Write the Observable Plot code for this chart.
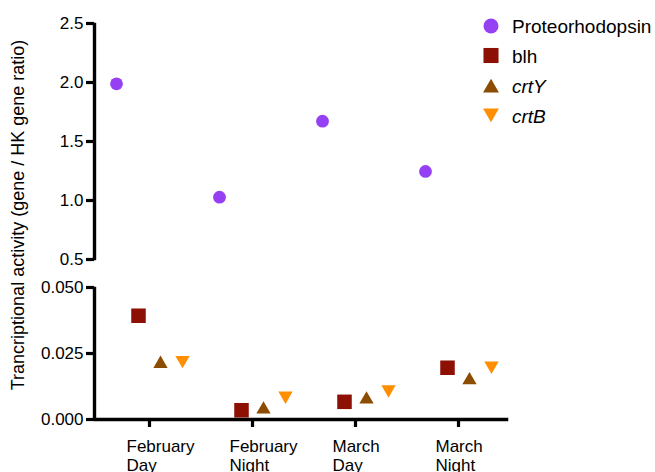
<!DOCTYPE html>
<html><head><meta charset="utf-8">
<script src="https://cdn.jsdelivr.net/npm/d3@7"></script>
<script src="https://cdn.jsdelivr.net/npm/@observablehq/plot@0.6"></script>
<style>
body{margin:0;background:#fff;font-family:"Liberation Sans",Arial,sans-serif;}
#chart{width:655px;height:472px;overflow:hidden;background:#fff;}
</style></head><body><div id="chart"></div>
<script>
// ---- data ----
const categories = ["February Day", "February Night", "March Day", "March Night"];
const seriesNames = ["Proteorhodopsin", "blh", "crtY", "crtB"];
const proteorhodopsin = [1.989, 1.028, 1.672, 1.246];
const blh = [0.0393, 0.0035, 0.0067, 0.0196];
const crtY = [0.0211, 0.0038, 0.0076, 0.0149];
const crtB = [0.0225, 0.0090, 0.0114, 0.0204];
const topTicks = [0.5, 1.0, 1.5, 2.0, 2.5];
const bottomTicks = [0, 0.025, 0.05];
const yLabel = "Trancriptional activity (gene / HK gene ratio)";

// ---- styles ----
const colors = {Proteorhodopsin: "#9640F4", blh: "#8C1104", crtY: "#8C4C02", crtB: "#FF8E00"};
const offsets = {Proteorhodopsin: -33, blh: -11, crtY: 11, crtB: 33};
const triangleDown = {
  draw(context, size) {
    const y = -Math.sqrt(size / (Math.sqrt(3) * 3));
    context.moveTo(0, -y * 2);
    context.lineTo(-Math.sqrt(3) * y, y);
    context.lineTo(Math.sqrt(3) * y, y);
    context.closePath();
  }
};
const symbols = {Proteorhodopsin: "circle", blh: "square", crtY: "triangle", crtB: triangleDown};
const radii = {Proteorhodopsin: 6.4, blh: 8.2, crtY: 5.3, crtB: 5.3};

const toRows = (name, values) => values.map((v, i) => ({category: categories[i], series: name, value: v}));
const prRows = toRows("Proteorhodopsin", proteorhodopsin);
const lowSeries = {blh: toRows("blh", blh), crtY: toRows("crtY", crtY), crtB: toRows("crtB", crtB)};

const FONT = '"Liberation Sans", Arial, sans-serif';
const font = {fontFamily: FONT, fontSize: "17px", color: "#000", background: "transparent", overflow: "visible"};
const xOpts = {type: "point", domain: categories, padding: 0.5, align: 0.533};
const dotFor = (name, rows) => Plot.dot(rows, {x: "category", y: "value", symbol: symbols[name], r: radii[name], fill: colors[name], dx: offsets[name]});

// thick black axis lines and ticks, built from several offset strokes
const layers = [-1, 0, 1];
const blank = () => "";
const lineLeft = () => layers.map(o => Plot.frame({anchor: "left", stroke: "#000", strokeWidth: 1.4, dx: o}));
const lineBottom = () => layers.map(o => Plot.frame({anchor: "bottom", stroke: "#000", strokeWidth: 1.4, dy: o}));
const ticksY = ticks => layers.map(o => Plot.axisY({ticks, tickFormat: blank, tickSize: 8, stroke: "#000", strokeWidth: 1.2, dy: o, label: null}));
const textY = (ticks, fmt) => Plot.axisY({ticks, tickFormat: fmt, tickSize: 0, tickPadding: 11, label: null});
const ticksX = () => layers.map(o => Plot.axisX({tickFormat: blank, tickSize: 8, stroke: "#000", strokeWidth: 1.2, dx: o, label: null}));
const textX = () => Plot.axisX({tickSize: 0, tickPadding: 18, textAnchor: "start", dx: -23, lineHeight: 1.16, tickFormat: d => d.replace(" ", "\n"), label: null});

const topPlot = Plot.plot({
  width: 655, height: 270, marginTop: 23, marginBottom: 11, marginLeft: 94, marginRight: 148,
  style: font,
  x: {...xOpts, axis: null},
  y: {domain: [0.5, 2.5], axis: null},
  marks: [
    dotFor("Proteorhodopsin", prRows),
    ...ticksY(topTicks),
    textY(topTicks, d3.format(".1f")),
    ...lineLeft()
  ]
});

const bottomPlot = Plot.plot({
  width: 655, height: 202, marginTop: 17, marginBottom: 53, marginLeft: 94, marginRight: 148,
  style: font,
  x: {...xOpts, axis: null},
  y: {domain: [0, 0.05], axis: null},
  marks: [
    ...Object.entries(lowSeries).map(([name, rows]) => dotFor(name, rows)),
    ...ticksY(bottomTicks),
    textY(bottomTicks, d3.format(".3f")),
    ...ticksX(),
    textX(),
    ...lineLeft(),
    ...lineBottom()
  ]
});

// ---- one outer svg holding both panels ----
const outer = d3.create("svg").attr("width", 655).attr("height", 472).attr("viewBox", "0 0 655 472")
  .style("display", "block").style("background", "#fff");

function place(plot, top, h) {
  plot.setAttribute("x", 0);
  plot.setAttribute("y", top);
  plot.style.width = "655px";
  plot.style.height = h + "px";
  plot.style.maxWidth = "none";
  plot.style.overflow = "visible";
  outer.node().appendChild(plot);
}
place(topPlot, 0, 270);
place(bottomPlot, 270, 202);

// ---- y label ----
outer.append("text")
  .attr("transform", "translate(18,215) rotate(-90)")
  .attr("text-anchor", "middle").attr("dy", "0.35em")
  .attr("font-size", 18).attr("font-family", FONT)
  .attr("fill", "#000").text(yLabel);

// ---- legend ----
const legendRows = [
  {name: "Proteorhodopsin", y: 26, sy: 26, r: 7.5, italic: false},
  {name: "blh", y: 56, sy: 55.5, r: 8.5, italic: false},
  {name: "crtY", y: 86, sy: 88, r: 5.9, italic: true},
  {name: "crtB", y: 116, sy: 113, r: 5.9, italic: true}
];
const d3sym = {circle: d3.symbolCircle, square: d3.symbolSquare, triangle: d3.symbolTriangle};
const legend = outer.append("g");
legendRows.forEach(row => {
  const s = symbols[row.name];
  const type = typeof s === "string" ? d3sym[s] : s;
  legend.append("path")
    .attr("transform", `translate(491,${row.sy})`)
    .attr("d", d3.symbol(type, Math.PI * row.r * row.r)())
    .attr("fill", colors[row.name]);
  legend.append("text")
    .attr("x", 512).attr("y", row.y).attr("dy", "0.35em")
    .attr("font-size", 19)
    .attr("font-family", FONT)
    .attr("font-style", row.italic ? "italic" : "normal")
    .attr("fill", "#000")
    .text(row.name);
});

document.getElementById("chart").appendChild(outer.node());
</script></body></html>
